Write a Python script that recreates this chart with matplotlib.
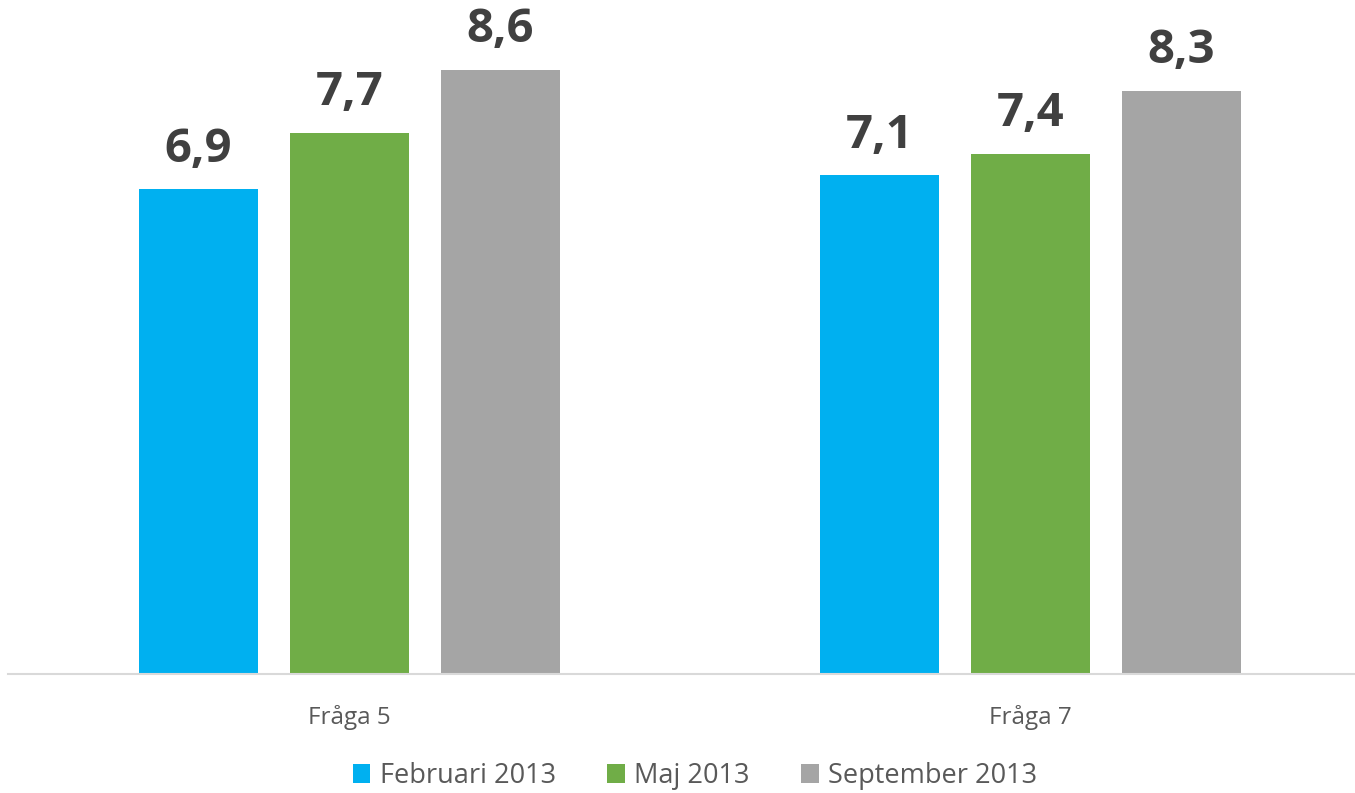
import matplotlib
matplotlib.use("Agg")
import matplotlib.pyplot as plt
import numpy as np

# data
categories = ["Fråga 5", "Fråga 7"]
series_names = ["Februari 2013", "Maj 2013", "September 2013"]
februari = [6.9, 7.1]
maj = [7.7, 7.4]
september = [8.6, 8.3]
colors = ["#00b0f0", "#70ad47", "#a5a5a5"]

plt.rcParams["font.family"] = ["Open Sans", "DejaVu Sans"]

fig = plt.figure(figsize=(13.55, 7.93), dpi=100)
# axes placed in pixel terms: baseline at y=674, axis line from x=8 to the right edge
ax = fig.add_axes([8 / 1355, (793 - 674) / 793, 1347 / 1355, 674 / 793])

x = np.arange(len(categories))
width = 0.1747
step = 0.2217
for i, (vals, name, c) in enumerate(zip([februari, maj, september], series_names, colors)):
    bars = ax.bar(x + (i - 1) * step, vals, width, color=c, label=name)
    for b, v in zip(bars, vals):
        ax.annotate(f"{v:.1f}".replace(".", ","),
                    (b.get_x() + b.get_width() / 2, v),
                    xytext=(0, 12), textcoords="offset points",
                    ha="center", va="bottom", fontsize=34, fontweight="bold",
                    color="#404040")

ax.set_xlim(-(349.5 - 8) / 681, 1 + (1355 - 1030.5) / 681)
ax.set_ylim(0, 674 / 70.25)
ax.set_xticks(x)
ax.set_xticklabels(categories, fontsize=17.5, color="#595959")
ax.tick_params(axis="x", length=0, pad=22)
ax.set_yticks([])
for s in ["top", "right", "left"]:
    ax.spines[s].set_visible(False)
ax.spines["bottom"].set_color("#d9d9d9")
ax.spines["bottom"].set_linewidth(1.5)

leg = fig.legend(loc="center", bbox_to_anchor=(695 / 1355, 1 - 776 / 793),
                 ncol=3, frameon=False, fontsize=19.5, handlelength=0.65,
                 handleheight=0.65, handletextpad=0.35, columnspacing=1.9)
for t in leg.get_texts():
    t.set_color("#595959")

fig.savefig("out.png", dpi=100)
